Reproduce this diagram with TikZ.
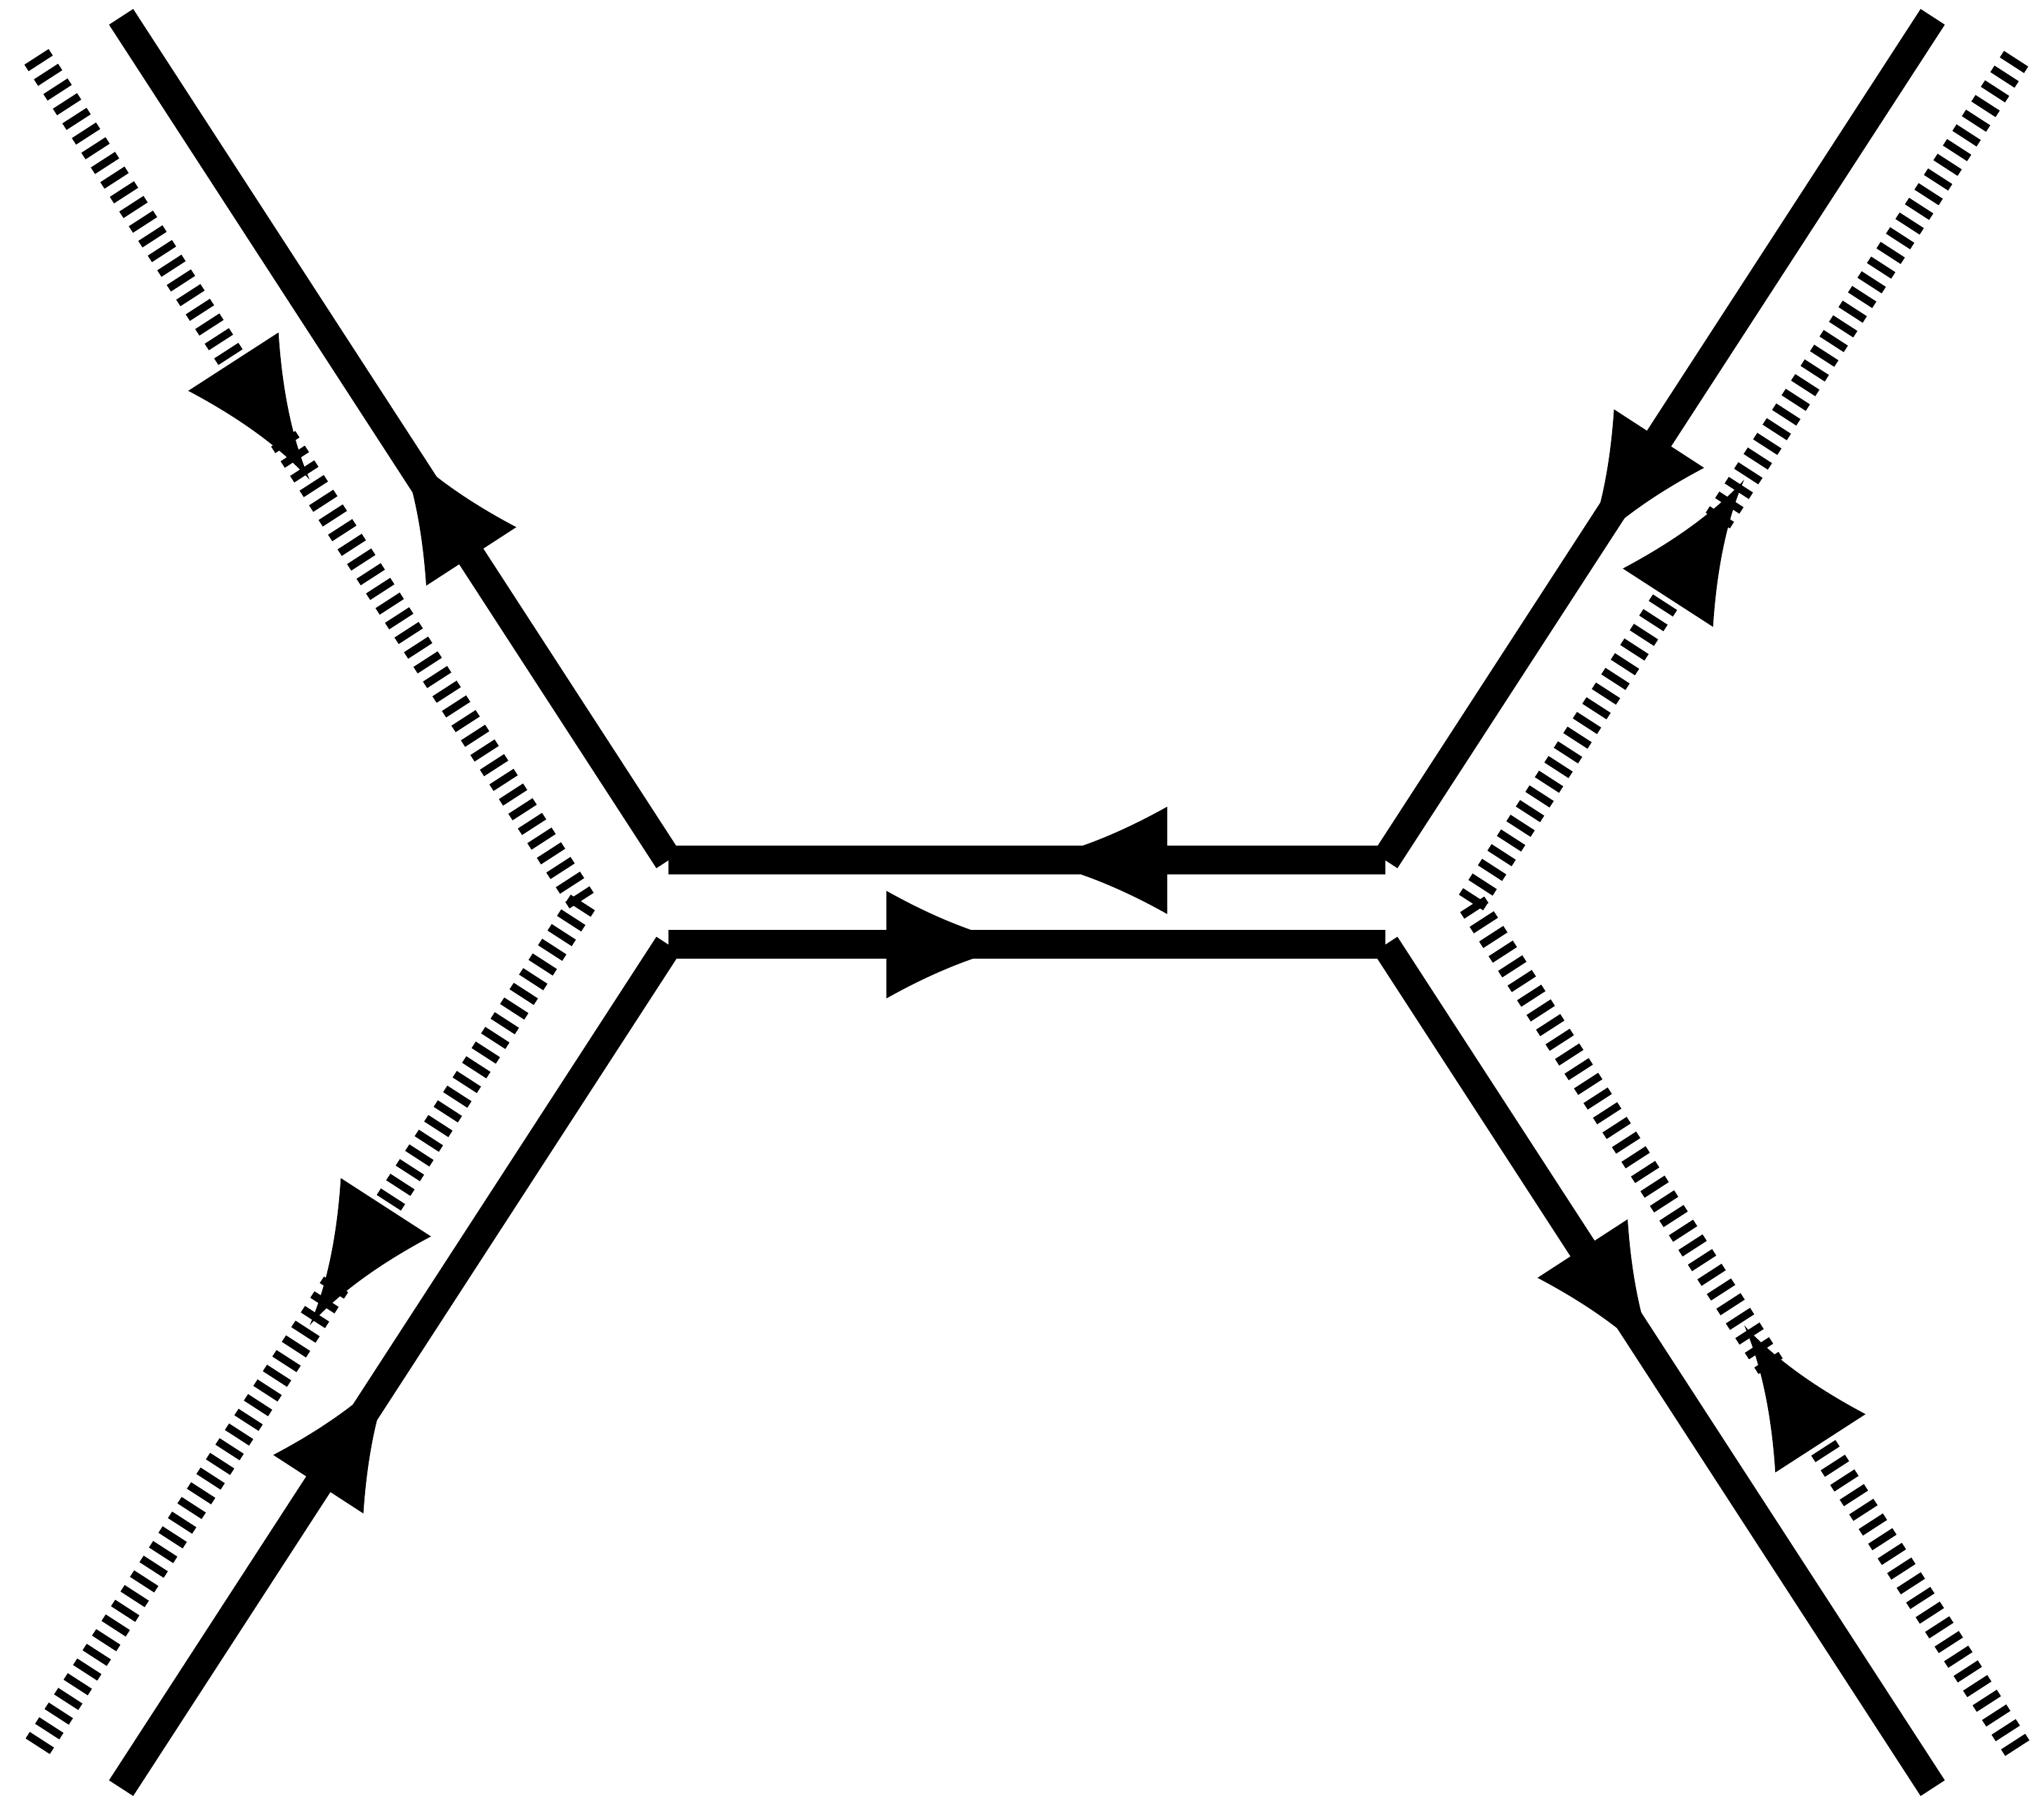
\documentclass[tikz,border=0pt]{standalone}
\usetikzlibrary{decorations.markings}
\tikzset{
  mid arrow/.style={postaction={decorate}, decoration={markings, mark=at position 0.5 with {\fill[solid,xshift=#1] (0,0) .. controls (-0.6,0.1) and (-1.267,0.355) .. (-2,0.765) -- (-2,-0.765) .. controls (-1.267,-0.355) and (-0.6,-0.1) .. (0,0) -- cycle;}}},
  fline/.style={line width=0.41cm, mid arrow=#1},
  fline/.default=0cm,
  dline/.style={line width=0.41cm, dash pattern=on 0.11cm off 0.139cm, mid arrow=0cm}
}
\begin{document}
\begin{tikzpicture}
\useasboundingbox (-14.625,-12.85) rectangle (14.485,12.85);
\coordinate (qid0) at (-12.9,12.61);
\coordinate (qid1) at (-5.105,0.6);
\coordinate (qid2) at (5.105,0.6);
\coordinate (qid3) at (12.9,12.61);
\draw[fline=2cm] (qid3) -- (qid2);
\draw[fline] (qid2) -- (qid1);
\draw[fline] (qid1) -- (qid0);
\coordinate (qid4) at (-12.9,-12.61);
\coordinate (qid5) at (-5.105,-0.6);
\coordinate (qid6) at (5.105,-0.6);
\coordinate (qid7) at (12.9,-12.61);
\draw[fline] (qid4) -- (qid5);
\draw[fline] (qid5) -- (qid6);
\draw[fline] (qid6) -- (qid7);
\coordinate (gid0) at (-14.105,12.04);
\coordinate (gid1) at (-6.325,0);
\coordinate (gid2) at (-14.105,-12.04);
\draw[dline] (gid0) -- (gid1);
\draw[dline] (gid1) -- (gid2);
\coordinate (gid3) at (14.105,-12.04);
\coordinate (gid4) at (6.325,0);
\coordinate (gid5) at (14.105,12.04);
\draw[dline] (gid3) -- (gid4);
\draw[dline] (gid4) -- (gid5);

\end{tikzpicture}
\end{document}
